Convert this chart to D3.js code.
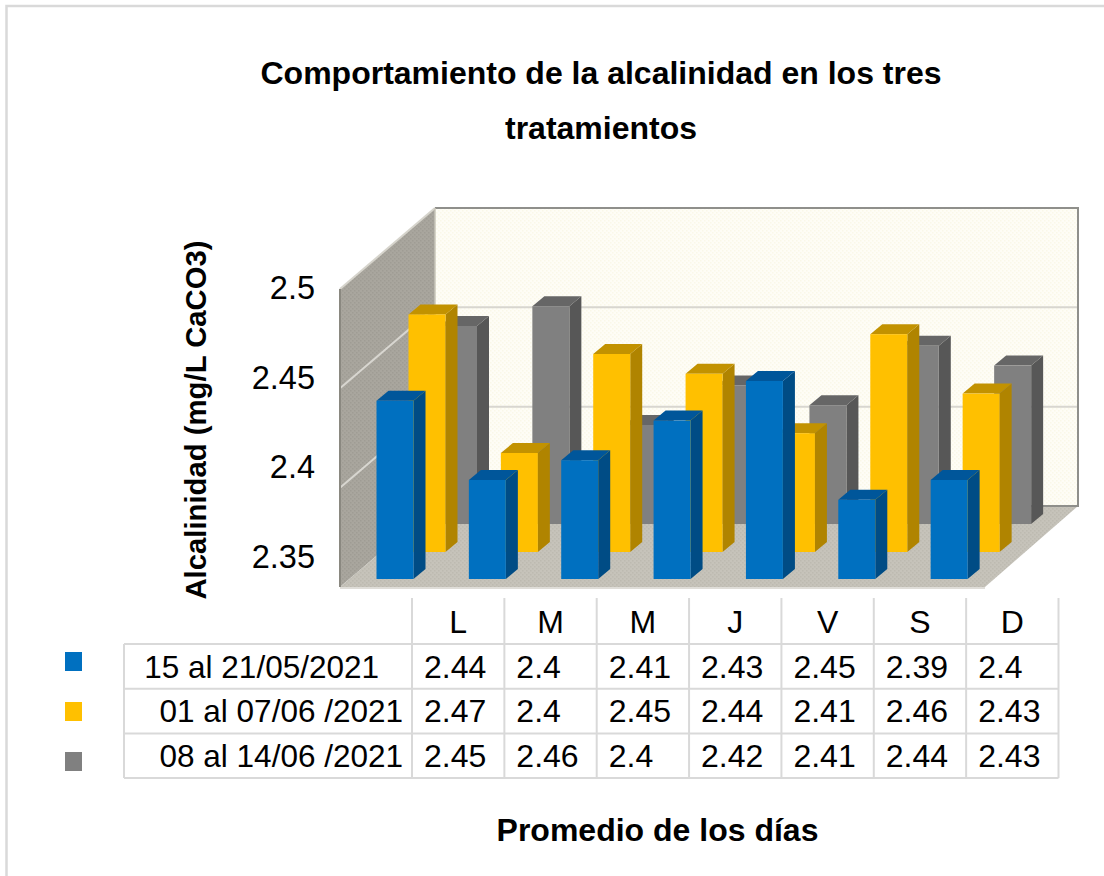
<!DOCTYPE html>
<html>
<head>
<meta charset="utf-8">
<script src="https://cdn.jsdelivr.net/npm/d3@7"></script>
<style>
  html, body { margin: 0; padding: 0; background: #fff; }
  svg { display: block; }
  text { font-family: "Liberation Sans", Arial, sans-serif; fill: #000; }
</style>
</head>
<body>
<div id="plot"></div>
<script>
var width = 1104;
var height = 876;

var days = ["L", "M", "M", "J", "V", "S", "D"];
var seriesNames = ["15 al 21/05/2021", "01 al 07/06 /2021", "08 al 14/06 /2021"];
var blueValues = [2.44, 2.4, 2.41, 2.43, 2.45, 2.39, 2.4];
var yellowValues = [2.47, 2.4, 2.45, 2.44, 2.41, 2.46, 2.43];
var grayValues = [2.45, 2.46, 2.4, 2.42, 2.41, 2.44, 2.43];
var yTicks = [2.35, 2.4, 2.45, 2.5];

var allValues = [blueValues, yellowValues, grayValues];
var front = ["#0070c0", "#ffc000", "#808080"];
var side = ["#004c85", "#b08400", "#575757"];
var topc = ["#00569a", "#c29200", "#666666"];

var svg = d3.select("#plot").append("svg")
  .attr("width", width)
  .attr("height", height);

// dotted texture of the walls and floor
var defs = svg.append("defs");
function texture(id, base, dot) {
  var p = defs.append("pattern")
    .attr("id", id)
    .attr("patternUnits", "userSpaceOnUse")
    .attr("width", 4)
    .attr("height", 4);
  p.append("rect").attr("width", 4).attr("height", 4).attr("fill", base);
  p.append("rect").attr("width", 1.5).attr("height", 1.5).attr("fill", dot);
  p.append("rect").attr("x", 2).attr("y", 2).attr("width", 1.5).attr("height", 1.5).attr("fill", dot);
}
texture("backTex", "#fefdf6", "#faf8e8");
texture("sideTex", "#a9a69e", "#9f9c94");
texture("floorTex", "#c6c3ba", "#bdbab0");

// outer frame, only top and left are in the picture
svg.append("path")
  .attr("d", "M6.5,876V6H1104")
  .attr("fill", "none")
  .attr("stroke", "#d9d9d9")
  .attr("stroke-width", 2.5);

// chart box
var frontLeft = 340, frontRight = 985, frontBottom = 587;
var depthX = 95, depthY = -81;

var yFront = d3.scaleLinear().domain([2.35, 2.5]).range([frontBottom, 289]);
function yBack(v) { return yFront(v) + depthY; }
var backLeft = frontLeft + depthX;
var backRight = frontRight + depthX + (-2);

svg.append("path")
  .attr("d", d3.line()([[backLeft, yBack(2.5)], [backRight, yBack(2.5)], [backRight, yBack(2.35)], [backLeft, yBack(2.35)]]) + "Z")
  .attr("fill", "url(#backTex)");

svg.append("path")
  .attr("d", d3.line()([[frontLeft, yFront(2.5)], [backLeft, yBack(2.5)], [backLeft, yBack(2.35)], [frontLeft, yFront(2.35)]]) + "Z")
  .attr("fill", "url(#sideTex)");

svg.append("path")
  .attr("d", d3.line()([[frontLeft, frontBottom], [backLeft, yBack(2.35)], [backRight, yBack(2.35)], [frontRight, frontBottom]]) + "Z")
  .attr("fill", "url(#floorTex)");

// gridlines on the back wall and on the left wall
svg.selectAll(".grid")
  .data([2.4, 2.45])
  .enter()
  .append("path")
    .attr("class", "grid")
    .attr("d", function (d) {
      return d3.line()([[frontLeft, yFront(d)], [backLeft, yBack(d)], [backRight, yBack(d)]]);
    })
    .attr("fill", "none")
    .attr("stroke", "#d8d6d0")
    .attr("stroke-width", 2);

// wall edges
svg.append("path")
  .attr("d", d3.line()([[frontLeft, yFront(2.5)], [backLeft, yBack(2.5)]]))
  .attr("stroke", "#d6d4cc").attr("stroke-width", 2).attr("fill", "none");
svg.append("path")
  .attr("d", d3.line()([[backLeft, yBack(2.5)], [backRight, yBack(2.5)], [backRight, yBack(2.35)], [backLeft + 60, yBack(2.35)]]))
  .attr("stroke", "#8f8f8b").attr("stroke-width", 2).attr("fill", "none");
svg.append("path")
  .attr("d", d3.line()([[frontLeft, yFront(2.5)], [frontLeft, frontBottom]]))
  .attr("stroke", "#8a8880").attr("stroke-width", 2).attr("fill", "none");
svg.append("path")
  .attr("d", d3.line()([[backLeft, yBack(2.5)], [backLeft, yBack(2.35)]]))
  .attr("stroke", "#c9c6ba").attr("stroke-width", 1.5).attr("fill", "none");
svg.append("path")
  .attr("d", d3.line()([[frontLeft, frontBottom + 1], [frontRight, frontBottom + 1]]))
  .attr("stroke", "#d4d2cb").attr("stroke-width", 1.5).attr("fill", "none");

// table columns, the bars hang from the same scale
var tableLeft = 124, tableTop = 644, rowH = 44.7;
var colX = d3.scaleBand().domain(d3.range(days.length)).range([412, 1058.5]);
var barH = d3.scaleLinear().domain([2.35, 2.5]).range([0, 297]);

var seriesBase = [579, 552, 524];
var seriesShift = [-35.5, -3.5, 28];
var barW = 37, barDX = 12, barDY = -10;

// gray first so the nearer series covers it
[2, 1, 0].forEach(function (s) {
  var g = svg.append("g").attr("class", "series" + s);
  var bars = g.selectAll("g")
    .data(allValues[s])
    .enter()
    .append("g")
      .attr("transform", function (d, i) {
        return "translate(" + (colX(i) + seriesShift[s]) + "," + seriesBase[s] + ")";
      });

  bars.append("path")
    .attr("d", function (d) {
      var h = barH(d);
      return d3.line()([[barW, 0], [barW + barDX, barDY], [barW + barDX, -h + barDY], [barW, -h]]) + "Z";
    })
    .attr("fill", side[s]);
  bars.append("path")
    .attr("d", function (d) {
      var h = barH(d);
      return d3.line()([[0, -h], [barDX, -h + barDY], [barW + barDX, -h + barDY], [barW, -h]]) + "Z";
    })
    .attr("fill", topc[s]);
  bars.append("rect")
    .attr("x", 0)
    .attr("y", function (d) { return -barH(d); })
    .attr("width", barW)
    .attr("height", function (d) { return barH(d); })
    .attr("fill", front[s]);
});

// value axis, labels sit on their own spacing
var yLabels = d3.scaleLinear().domain([2.35, 2.5]).range([557, 288]);
var yAxis = svg.append("g")
  .attr("transform", "translate(318,0)")
  .call(d3.axisLeft(yLabels).tickValues(yTicks).tickSize(0).tickFormat(function (d) { return String(d); }));
yAxis.select(".domain").remove();
yAxis.selectAll("text")
  .attr("font-size", 32.5)
  .style("font-family", '"Liberation Sans", Arial, sans-serif');

// data table grid
var tableGrid = svg.append("g")
  .attr("stroke", "#d9d9d9")
  .attr("stroke-width", 2)
  .attr("fill", "none");

d3.range(days.length + 1).forEach(function (i) {
  var x = i < days.length ? colX(i) : colX.range()[1];
  tableGrid.append("line")
    .attr("x1", x).attr("x2", x)
    .attr("y1", 598).attr("y2", tableTop + rowH * 3);
});
d3.range(seriesNames.length + 1).forEach(function (r) {
  tableGrid.append("line")
    .attr("x1", tableLeft).attr("x2", colX.range()[1])
    .attr("y1", tableTop + r * rowH).attr("y2", tableTop + r * rowH);
});
tableGrid.append("line")
  .attr("x1", tableLeft).attr("x2", tableLeft)
  .attr("y1", tableTop).attr("y2", tableTop + rowH * 3);

svg.selectAll(".day")
  .data(days)
  .enter()
  .append("text")
    .attr("class", "day")
    .attr("x", function (d, i) { return colX(i) + colX.bandwidth() / 2; })
    .attr("y", 633)
    .attr("text-anchor", "middle")
    .attr("font-size", 32)
    .text(function (d) { return d; });

seriesNames.forEach(function (name, r) {
  var rowBase = tableTop + r * rowH + 33.5;
  svg.append("text")
    .attr("x", r === 0 ? 379 : 403)
    .attr("y", rowBase)
    .attr("text-anchor", "end")
    .attr("font-size", 31.5)
    .text(name);

  svg.append("rect")
    .attr("x", 65)
    .attr("y", 652 + r * 50)
    .attr("width", 17)
    .attr("height", 19)
    .attr("fill", front[r]);

  svg.selectAll(".cell" + r)
    .data(allValues[r])
    .enter()
    .append("text")
      .attr("class", "cell" + r)
      .attr("x", function (d, i) { return colX(i) + 12; })
      .attr("y", rowBase)
      .attr("font-size", 32)
      .text(function (d) { return String(d); });
});

// titles
svg.selectAll(".title")
  .data(["Comportamiento de la alcalinidad en los tres", "tratamientos"])
  .enter()
  .append("text")
    .attr("class", "title")
    .attr("x", 601)
    .attr("y", function (d, i) { return 84 + i * 55; })
    .attr("text-anchor", "middle")
    .attr("font-size", 32)
    .attr("font-weight", "bold")
    .text(function (d) { return d; });

svg.append("text")
  .attr("transform", "translate(206,420) rotate(-90)")
  .attr("text-anchor", "middle")
  .attr("font-size", 29.3)
  .attr("font-weight", "bold")
  .text("Alcalinidad (mg/L CaCO3)");

svg.append("text")
  .attr("x", 657.5)
  .attr("y", 841)
  .attr("text-anchor", "middle")
  .attr("font-size", 32)
  .attr("font-weight", "bold")
  .text("Promedio de los días");
</script>
</body>
</html>
